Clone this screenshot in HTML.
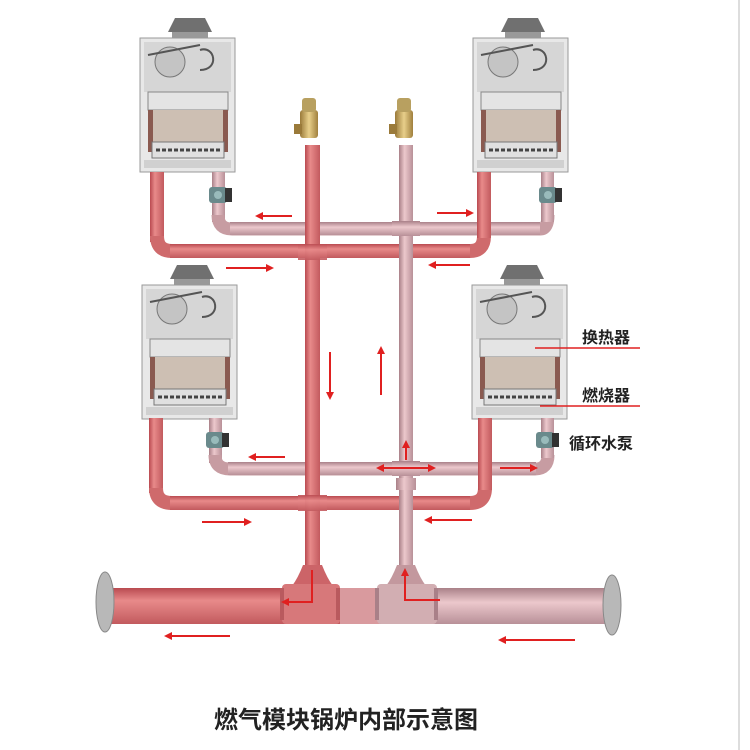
<!DOCTYPE html>
<html><head><meta charset="utf-8"><style>
html,body{margin:0;padding:0;background:#fff}
svg{display:block}
text{font-family:"Liberation Sans","Noto Sans CJK SC",sans-serif;font-weight:bold;fill:#222}
</style></head><body>
<svg width="750" height="750" viewBox="0 0 750 750" xmlns="http://www.w3.org/2000/svg">
<defs>
<linearGradient id="rv" x1="0" x2="1" y1="0" y2="0"><stop offset="0" stop-color="#b94a50"/><stop offset=".35" stop-color="#e88a8a"/><stop offset="1" stop-color="#c25a5e"/></linearGradient>
<linearGradient id="rh" x1="0" x2="0" y1="0" y2="1"><stop offset="0" stop-color="#b94a50"/><stop offset=".35" stop-color="#e88a8a"/><stop offset="1" stop-color="#c25a5e"/></linearGradient>
<linearGradient id="pv" x1="0" x2="1" y1="0" y2="0"><stop offset="0" stop-color="#a98088"/><stop offset=".4" stop-color="#ecc8cc"/><stop offset="1" stop-color="#b89098"/></linearGradient>
<linearGradient id="ph" x1="0" x2="0" y1="0" y2="1"><stop offset="0" stop-color="#a98088"/><stop offset=".4" stop-color="#ecc8cc"/><stop offset="1" stop-color="#b89098"/></linearGradient>
<linearGradient id="brass" x1="0" x2="1"><stop offset="0" stop-color="#9a7a3a"/><stop offset=".5" stop-color="#e8cf8a"/><stop offset="1" stop-color="#a0803e"/></linearGradient>
<g id="boiler">
<polygon points="35,18 65,18 72,32 28,32" fill="#707070"/>
<rect x="32" y="32" width="36" height="6" fill="#999"/>
<rect x="0" y="38" width="95" height="134" fill="#e8e8e8" stroke="#999"/>
<rect x="4" y="42" width="87" height="50" fill="#d6d6d6"/>
<circle cx="30" cy="62" r="15" fill="#c4c4c4" stroke="#777"/>
<path d="M8,55 L60,45 M60,50 C75,45 80,70 60,70" stroke="#555" stroke-width="2" fill="none"/>
<rect x="8" y="92" width="80" height="18" fill="#e4e4e4" stroke="#888"/>
<rect x="13" y="110" width="70" height="32" fill="#cdbfb3"/>
<rect x="8" y="110" width="5" height="42" fill="#8a5a50"/>
<rect x="83" y="110" width="5" height="42" fill="#8a5a50"/>
<rect x="12" y="142" width="72" height="16" fill="#e0e0e0" stroke="#777"/>
<path d="M16,150 H80" stroke="#444" stroke-width="3" stroke-dasharray="4,2"/>
<rect x="4" y="160" width="87" height="8" fill="#d0d0d0"/>
</g>
<g id="pump"><rect x="-9" y="-8" width="18" height="16" rx="3" fill="#6a8a8c"/><rect x="7" y="-7" width="7" height="14" fill="#333"/><circle cx="0" cy="0" r="4" fill="#9bb"/></g>
<marker id="ah" markerWidth="8" markerHeight="8" refX="6" refY="4" orient="auto" markerUnits="userSpaceOnUse"><path d="M0,0 L8,4 L0,8 Z" fill="#e02020"/></marker>
</defs>

<line x1="739" y1="0" x2="739" y2="750" stroke="#ddd" stroke-width="2"/>

<use href="#boiler" x="140" y="0"/>
<use href="#boiler" x="473" y="0"/>
<use href="#boiler" x="142" y="247"/>
<use href="#boiler" x="472" y="247"/>

<rect x="212" y="172" width="13" height="50" fill="url(#pv)"/>
<path d="M218,215 Q218,229 232,229 L540,229 Q548,229 548,215" fill="none" stroke="#c79ca2" stroke-width="13"/>
<rect x="230" y="222" width="310" height="13" fill="url(#ph)"/>
<rect x="541" y="172" width="13" height="50" fill="url(#pv)"/>
<rect x="150" y="172" width="14" height="70" fill="url(#rv)"/>
<path d="M157,236 Q157,251 172,251 L470,251 Q484,251 484,236" fill="none" stroke="#cf6a6c" stroke-width="14"/>
<rect x="170" y="244" width="300" height="14" fill="url(#rh)"/>
<rect x="477" y="172" width="14" height="66" fill="url(#rv)"/>

<rect x="209" y="418" width="13" height="45" fill="url(#pv)"/>
<path d="M215,455 Q215,469 230,469 L535,469 Q548,469 548,455" fill="none" stroke="#c79ca2" stroke-width="13"/>
<rect x="228" y="462" width="308" height="13" fill="url(#ph)"/>
<rect x="541" y="418" width="13" height="40" fill="url(#pv)"/>
<rect x="149" y="418" width="14" height="75" fill="url(#rv)"/>
<path d="M156,488 Q156,503 172,503 L470,503 Q485,503 485,488" fill="none" stroke="#cf6a6c" stroke-width="14"/>
<rect x="170" y="496" width="300" height="14" fill="url(#rh)"/>
<rect x="478" y="418" width="14" height="72" fill="url(#rv)"/>

<rect x="399" y="145" width="14" height="430" fill="url(#pv)"/>
<rect x="305" y="145" width="15" height="430" fill="url(#rv)"/>
<rect x="298" y="244" width="29" height="16" fill="url(#rh)" opacity=".9"/>
<rect x="298" y="495" width="29" height="16" fill="url(#rh)" opacity=".9"/>
<rect x="392" y="221" width="28" height="15" fill="url(#ph)"/>
<rect x="392" y="461" width="28" height="15" fill="url(#ph)"/>
<rect x="396" y="478" width="20" height="12" fill="url(#pv)"/>

<rect x="300" y="110" width="18" height="28" rx="3" fill="url(#brass)"/>
<rect x="302" y="98" width="14" height="14" rx="3" fill="#b8a060"/>
<rect x="294" y="124" width="8" height="10" fill="#9a7a3a"/>
<rect x="395" y="110" width="18" height="28" rx="3" fill="url(#brass)"/>
<rect x="397" y="98" width="14" height="14" rx="3" fill="#b8a060"/>
<rect x="389" y="124" width="8" height="10" fill="#9a7a3a"/>

<rect x="110" y="588" width="230" height="36" fill="url(#rh)"/>
<rect x="340" y="588" width="40" height="36" fill="#d99a9e"/>
<rect x="380" y="588" width="230" height="36" fill="url(#ph)"/>
<path d="M303,565 Q298,578 292,586 L333,586 Q327,578 322,565 Z" fill="#cc6468"/>
<rect x="282" y="584" width="58" height="40" rx="4" fill="#d7787a"/>
<rect x="280" y="588" width="4" height="32" fill="#b95a5e"/>
<rect x="336" y="588" width="4" height="32" fill="#b95a5e"/>
<path d="M397,565 Q392,578 386,586 L426,586 Q420,578 415,565 Z" fill="#c3989e"/>
<rect x="377" y="584" width="60" height="40" rx="4" fill="#d2aeb2"/>
<rect x="375" y="588" width="4" height="32" fill="#a98088"/>
<rect x="434" y="588" width="4" height="32" fill="#a98088"/>
<ellipse cx="105" cy="602" rx="9" ry="30" fill="#b8b8b8" stroke="#888"/>
<ellipse cx="612" cy="605" rx="9" ry="30" fill="#b8b8b8" stroke="#888"/>

<use href="#pump" x="218" y="195"/>
<use href="#pump" x="548" y="195"/>
<use href="#pump" x="215" y="440"/>
<use href="#pump" x="545" y="440"/>

<g stroke="#e02020" stroke-width="2" fill="none" marker-end="url(#ah)">
<line x1="292" y1="216" x2="257" y2="216"/>
<line x1="437" y1="213" x2="472" y2="213"/>
<line x1="226" y1="268" x2="272" y2="268"/>
<line x1="470" y1="265" x2="430" y2="265"/>
<line x1="330" y1="352" x2="330" y2="398"/>
<line x1="381" y1="395" x2="381" y2="348"/>
<line x1="285" y1="457" x2="250" y2="457"/>
<line x1="500" y1="468" x2="536" y2="468"/>
<line x1="202" y1="522" x2="250" y2="522"/>
<line x1="472" y1="520" x2="426" y2="520"/>
<line x1="406" y1="468" x2="378" y2="468"/>
<line x1="406" y1="468" x2="434" y2="468"/>
<line x1="406" y1="460" x2="406" y2="442"/>
<line x1="230" y1="636" x2="166" y2="636"/>
<line x1="575" y1="640" x2="500" y2="640"/>
<path d="M312,570 L312,602 L283,602"/>
<path d="M440,600 L405,600 L405,570"/>
</g>

<g stroke="#e02020" stroke-width="1.5">
<line x1="535" y1="348" x2="640" y2="348"/>
<line x1="540" y1="406" x2="640" y2="406"/>
</g>
<text x="582" y="343" font-size="16">换热器</text>
<text x="582" y="401" font-size="16">燃烧器</text>
<text x="569" y="449" font-size="16">循环水泵</text>
<text x="214" y="728" font-size="24">燃气模块锅炉内部示意图</text>
</svg>
</body></html>
